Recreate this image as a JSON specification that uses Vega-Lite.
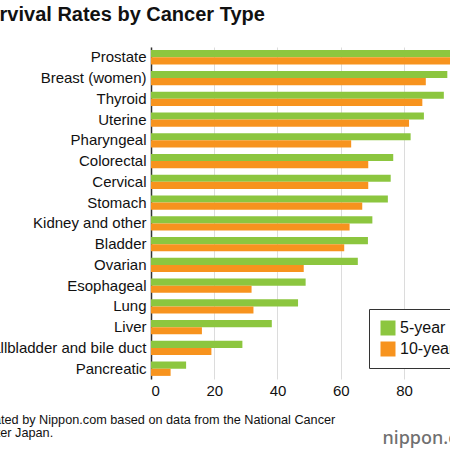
{
  "$schema": "https://vega.github.io/schema/vega-lite/v6.json",
  "autosize": {"type": "none"},
  "width": 299,
  "height": 332,
  "padding": {"left": 151, "top": 47, "right": 0, "bottom": 71},
  "background": "white",
  "config": {
    "font": "Liberation Sans",
    "view": {"stroke": null}
  },
  "title": {
    "text": "Survival Rates by Cancer Type",
    "anchor": "start",
    "frame": "group",
    "dx": -177,
    "offset": 22,
    "fontSize": 20,
    "fontWeight": "bold",
    "color": "#111"
  },
  "data": {
    "values": [
      {"cancer": "Prostate", "period": "5-year", "rate": 100},
      {"cancer": "Prostate", "period": "10-year", "rate": 97.8},
      {"cancer": "Breast (women)", "period": "5-year", "rate": 93.7},
      {"cancer": "Breast (women)", "period": "10-year", "rate": 86.9},
      {"cancer": "Thyroid", "period": "5-year", "rate": 92.6},
      {"cancer": "Thyroid", "period": "10-year", "rate": 85.8},
      {"cancer": "Uterine", "period": "5-year", "rate": 86.3},
      {"cancer": "Uterine", "period": "10-year", "rate": 81.6},
      {"cancer": "Pharyngeal", "period": "5-year", "rate": 82.1},
      {"cancer": "Pharyngeal", "period": "10-year", "rate": 63.3},
      {"cancer": "Colorectal", "period": "5-year", "rate": 76.6},
      {"cancer": "Colorectal", "period": "10-year", "rate": 68.7},
      {"cancer": "Cervical", "period": "5-year", "rate": 75.8},
      {"cancer": "Cervical", "period": "10-year", "rate": 68.7},
      {"cancer": "Stomach", "period": "5-year", "rate": 74.9},
      {"cancer": "Stomach", "period": "10-year", "rate": 66.8},
      {"cancer": "Kidney and other", "period": "5-year", "rate": 70.0},
      {"cancer": "Kidney and other", "period": "10-year", "rate": 62.8},
      {"cancer": "Bladder", "period": "5-year", "rate": 68.6},
      {"cancer": "Bladder", "period": "10-year", "rate": 61.1},
      {"cancer": "Ovarian", "period": "5-year", "rate": 65.4},
      {"cancer": "Ovarian", "period": "10-year", "rate": 48.3},
      {"cancer": "Esophageal", "period": "5-year", "rate": 48.9},
      {"cancer": "Esophageal", "period": "10-year", "rate": 31.8},
      {"cancer": "Lung", "period": "5-year", "rate": 46.5},
      {"cancer": "Lung", "period": "10-year", "rate": 32.4},
      {"cancer": "Liver", "period": "5-year", "rate": 38.2},
      {"cancer": "Liver", "period": "10-year", "rate": 16.1},
      {"cancer": "Gallbladder and bile duct", "period": "5-year", "rate": 28.9},
      {"cancer": "Gallbladder and bile duct", "period": "10-year", "rate": 19.1},
      {"cancer": "Pancreatic", "period": "5-year", "rate": 11.1},
      {"cancer": "Pancreatic", "period": "10-year", "rate": 6.2}
    ]
  },
  "mark": {"type": "bar", "clip": true},
  "encoding": {
    "y": {
      "field": "cancer",
      "type": "nominal",
      "sort": null,
      "scale": {"paddingInner": 0.31, "paddingOuter": 0.15},
      "axis": {
        "title": "nippon.com",
        "titleAngle": 0,
        "titleX": 231,
        "titleY": 396,
        "titleAlign": "left",
        "titleBaseline": "alphabetic",
        "titleFont": "Noto Sans",
        "titleFontSize": 18,
        "titleFontWeight": 500,
        "titleColor": "#707070",
        "labelFontSize": 15,
        "labelColor": "#111",
        "labelPadding": 5,
        "ticks": false,
        "domain": true,
        "domainColor": "#333",
        "domainWidth": 1.5
      }
    },
    "yOffset": {
      "field": "period",
      "type": "nominal",
      "sort": ["5-year", "10-year"]
    },
    "x": {
      "field": "rate",
      "type": "quantitative",
      "scale": {"domain": [0, 94.55], "nice": false},
      "axis": {
        "values": [0, 20, 40, 60, 80],
        "grid": true,
        "gridColor": "#dcdcdc",
        "domain": false,
        "ticks": false,
        "labelFontSize": 15,
        "labelColor": "#111",
        "labelPadding": 4,
        "title": ["Created by Nippon.com based on data from the National Cancer", "Center Japan."],
        "titleX": -178,
        "titleY": 34,
        "titleAlign": "left",
        "titleAnchor": "start",
        "titleBaseline": "top",
        "titleFontSize": 12.7,
        "titleFontWeight": "normal",
        "titleLineHeight": 13.5,
        "titleColor": "#111"
      }
    },
    "color": {
      "field": "period",
      "type": "nominal",
      "scale": {"domain": ["5-year", "10-year"], "range": ["#8cc63f", "#f7931e"]},
      "legend": {
        "title": null,
        "orient": "none",
        "legendX": 218,
        "legendY": 262,
        "direction": "vertical",
        "strokeColor": "#333",
        "fillColor": "white",
        "padding": 11,
        "symbolType": "square",
        "symbolSize": 225,
        "symbolStrokeWidth": 0,
        "symbolOpacity": 1,
        "labelFontSize": 16,
        "labelColor": "#111",
        "labelOffset": 4,
        "rowPadding": 5
      }
    }
  }
}
